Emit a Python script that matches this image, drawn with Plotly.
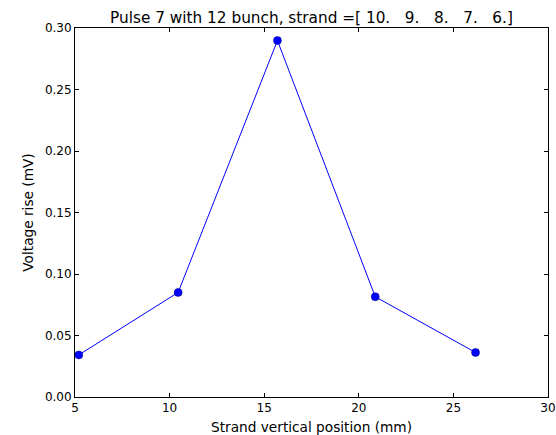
import plotly.graph_objects as go

# Strand positions (mm) and measured voltage rise (mV)
positions = [5.2, 10.45, 15.7, 20.87, 26.17]
voltage_rise = [0.0342, 0.0850, 0.2898, 0.0815, 0.0362]

x_ticks = [5, 10, 15, 20, 25, 30]
y_ticks = [0.00, 0.05, 0.10, 0.15, 0.20, 0.25, 0.30]

title_text = "Pulse 7 with 12 bunch, strand =[ 10.   9.   8.   7.   6.]"

fig = go.Figure()
fig.add_trace(go.Scatter(
    x=positions,
    y=voltage_rise,
    mode="lines+markers",
    line=dict(color="#0000ff", width=1),
    marker=dict(color="#0000ff", size=8, line=dict(color="#000080", width=0.5)),
    showlegend=False,
))

axis_common = dict(
    showline=True,
    linecolor="black",
    linewidth=1,
    mirror="allticks",
    ticks="inside",
    ticklen=4,
    tickcolor="black",
    showgrid=False,
    zeroline=False,
    automargin=False,
    tickfont=dict(size=12, color="black"),
)

fig.update_xaxes(
    range=[5, 30],
    tickvals=x_ticks,
    ticktext=[str(v) for v in x_ticks],
    title=dict(text="Strand vertical position (mm)", font=dict(size=13.7, color="black"), standoff=8),
    **axis_common,
)
fig.update_yaxes(
    range=[0, 0.30],
    tickvals=y_ticks,
    ticktext=[f"{v:.2f}" for v in y_ticks],
    title=dict(text="Voltage rise (mV)", font=dict(size=13.7, color="black"), standoff=8),
    **axis_common,
)

fig.update_layout(
    template="none",
    width=556,
    height=435,
    margin=dict(l=75, r=8, t=28, b=38),
    paper_bgcolor="white",
    plot_bgcolor="white",
    font=dict(family="DejaVu Sans", color="black"),
    title=dict(
        text=title_text,
        x=(75 + 548) / 2 / 556,
        xref="container",
        xanchor="center",
        y=1 - 18 / 435,
        yanchor="middle",
        font=dict(size=15.3, color="black"),
    ),
)

fig.write_html("out.html")
